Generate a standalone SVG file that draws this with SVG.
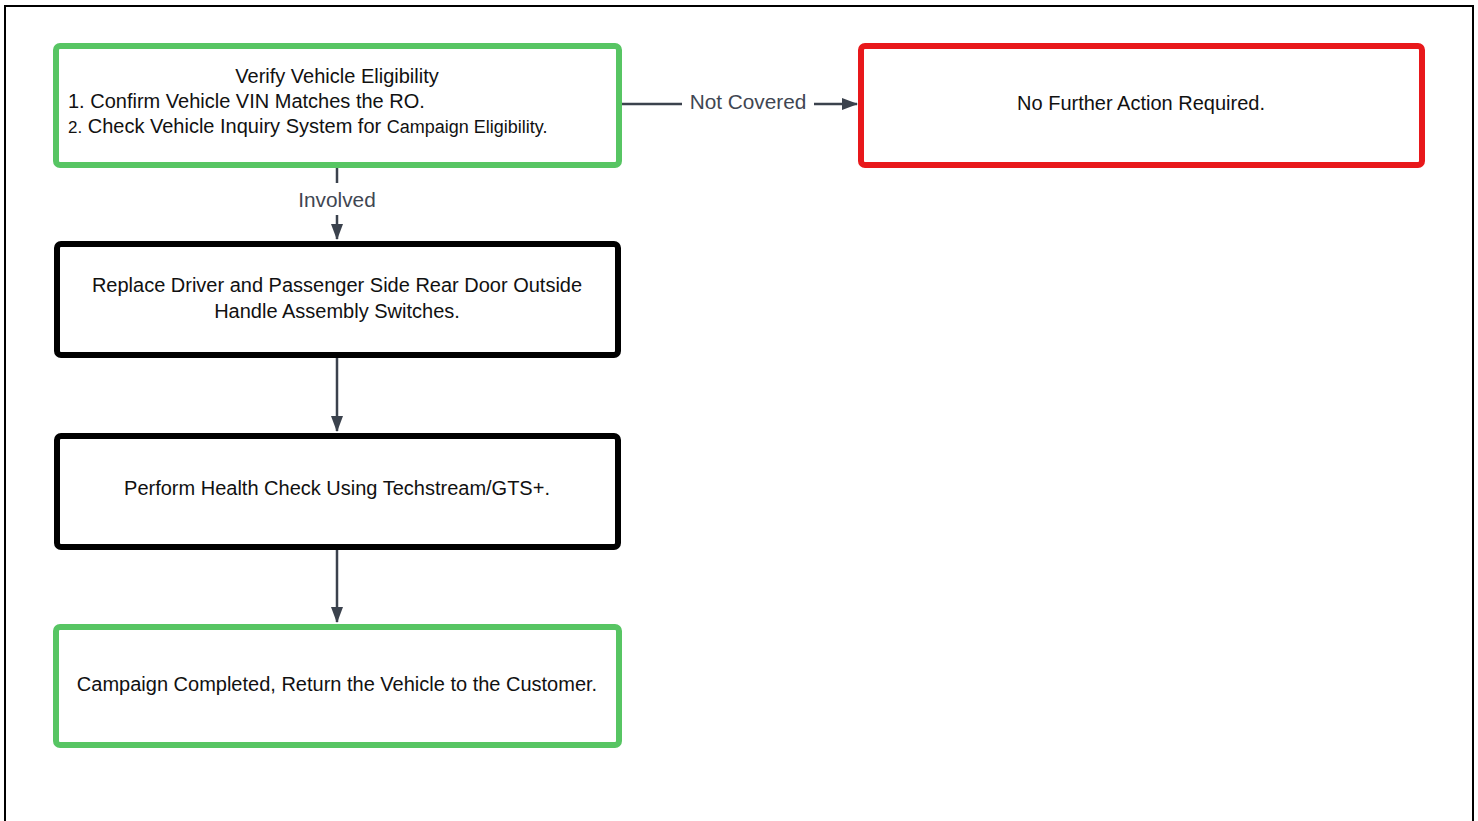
<svg xmlns="http://www.w3.org/2000/svg" width="1478" height="821" viewBox="0 0 1478 821">
<style>
.t{font-family:"Liberation Sans",Arial,sans-serif;font-size:20px;fill:#111;}
.lbl{font-family:"Liberation Sans",Arial,sans-serif;font-size:20.8px;fill:#3f4652;}
.g{fill:#fff;stroke:#57c563;stroke-width:6;}
.r{fill:#fff;stroke:#e8181b;stroke-width:6;}
.k{fill:#fff;stroke:#000;stroke-width:6;}
.c{stroke:#3b424d;stroke-width:2.5;fill:none;}
</style>
<defs>
<marker id="ah" markerWidth="16" markerHeight="12" refX="15" refY="6" orient="auto" markerUnits="userSpaceOnUse">
<path d="M0,0 L16,6 L0,12 Z" fill="#3b424d"/>
</marker>
</defs>
<rect x="0" y="0" width="1478" height="821" fill="#fff"/>
<rect x="5" y="6" width="1468" height="830" fill="none" stroke="#000" stroke-width="2"/>
<g id="connectors">
<path class="c" d="M337,168 V183"/>
<path class="c" d="M337,215 V239" marker-end="url(#ah)"/>
<text class="lbl" x="337" y="207" text-anchor="middle">Involved</text>
<path class="c" d="M622,104 H682"/>
<path class="c" d="M814,104 H857" marker-end="url(#ah)"/>
<text class="lbl" x="748" y="109" text-anchor="middle">Not Covered</text>
<path class="c" d="M337,357 V431" marker-end="url(#ah)"/>
<path class="c" d="M337,549 V622" marker-end="url(#ah)"/>
</g>
<g id="n1">
<rect class="g" x="56" y="46" width="563" height="119" rx="4"/>
<text class="t" x="337" y="83" text-anchor="middle">Verify Vehicle Eligibility</text>
<text class="t" x="68" y="108">1. Confirm Vehicle VIN Matches the RO.</text>
<text class="t" x="68" y="133"><tspan font-size="17">2.</tspan> Check Vehicle Inquiry System for <tspan font-size="18">Campaign Eligibility.</tspan></text>
</g>
<g id="n2">
<rect class="r" x="861" y="46" width="561" height="119" rx="4"/>
<text class="t" x="1141" y="110" text-anchor="middle">No Further Action Required.</text>
</g>
<g id="n3">
<rect class="k" x="57" y="244" width="561" height="111" rx="4"/>
<text class="t" x="337" y="292" text-anchor="middle">Replace Driver and Passenger Side Rear Door Outside</text>
<text class="t" x="337" y="318" text-anchor="middle">Handle Assembly Switches.</text>
</g>
<g id="n4">
<rect class="k" x="57" y="436" width="561" height="111" rx="4"/>
<text class="t" x="337" y="495" text-anchor="middle">Perform Health Check Using Techstream/GTS+.</text>
</g>
<g id="n5">
<rect class="g" x="56" y="627" width="563" height="118" rx="4"/>
<text class="t" x="337" y="691" text-anchor="middle">Campaign Completed, Return the Vehicle to the Customer.</text>
</g>
</svg>
